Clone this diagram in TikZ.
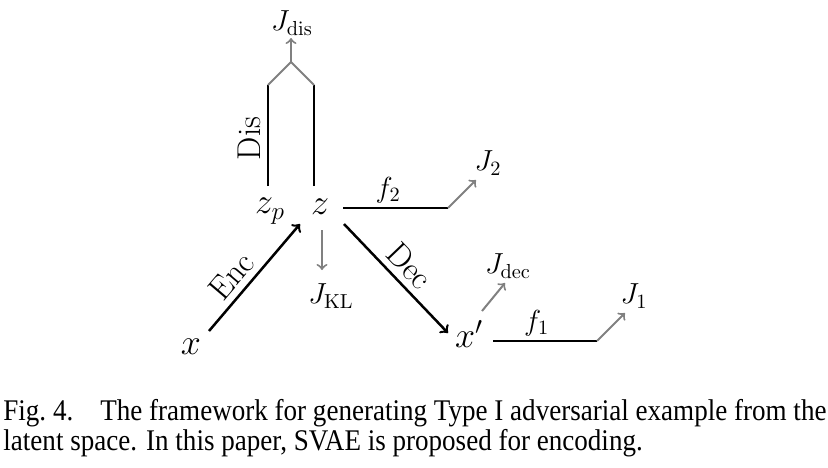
\RequirePackage{fix-cm}
\documentclass[tikz,border=0pt]{standalone}
\usepackage[no-math]{fontspec}
\usepackage{graphicx}
\newfontfamily\capfont{Liberation Serif}
\usetikzlibrary{calc}

\begin{document}
\begin{tikzpicture}[x=0.5pt,y=-0.5pt,
  bigl/.style={font=\fontsize{18}{20}\selectfont},
  costl/.style={font=\fontsize{14.5}{16}\selectfont},
  netl/.style={font=\fontsize{16.5}{18}\selectfont,inner sep=3pt},
  flow/.style={black,line width=1.25pt},
  cost/.style={gray,line width=1pt}]

\useasboundingbox (0,0) rectangle (828,467);

% variables
\node[bigl] (x) at (191,347) {$x$};
\node[bigl] (zp) at (270,211) {$z_p$};
\node[bigl] (z) at (320,207) {$z$};
\node[bigl] (xp) at (469,334) {$x'$};

% costs
\node[costl] (Jdis) at (292,23) {$J_{\mathrm{dis}}$};
\node[costl] (J2) at (488,163) {$J_2$};
\node[costl] (JKL) at (331,296) {$J_{\mathrm{KL}}$};
\node[costl] (Jdec) at (508,266) {$J_{\mathrm{dec}}$};
\node[costl] (J1) at (634,296) {$J_1$};

\coordinate (encA) at (209,331);
\coordinate (encB) at (300,224);
\coordinate (decA) at (344,224);
\coordinate (decB) at (448,333);
\coordinate (disL) at (268,186);
\coordinate (disLt) at (268,85);
\coordinate (disR) at (314,186);
\coordinate (disRt) at (314,85);
\coordinate (fork) at (291,62);
\coordinate (Jdistip) at (291,38);
\coordinate (f2A) at (343,208);
\coordinate (f2B) at (448,208);
\coordinate (J2tip) at (476,180);
\coordinate (f1A) at (493,341);
\coordinate (f1B) at (597,341);
\coordinate (J1tip) at (625,313);
\coordinate (decC) at (482,311);
\coordinate (Jdectip) at (505,283);
\coordinate (klA) at (322,230);
\coordinate (klB) at (322,270);

\draw[flow,->] (encA)--(encB) node [netl,pos=0.4,sloped,above] {Enc};
\draw[flow,->] (decA)--(decB) node [netl,midway,sloped,above] {Dec};
\draw[flow] (disL)--(disLt) node [netl,pos=0.47,sloped,above] {Dis};
\draw[flow] (disR)--(disRt);
\draw[flow] (f2A)--(f2B) node [costl,pos=0.43,above,inner sep=2pt] {$f_2$};
\draw[flow] (f1A)--(f1B) node [costl,pos=0.42,above,inner sep=2pt] {$f_1$};

\draw[cost] (disLt)--(fork)--(disRt);
\draw[cost,->] (fork)--(Jdistip);
\draw[cost,->] (f2B)--(J2tip);
\draw[cost,->] (f1B)--(J1tip);
\draw[cost,->] (decC)--(Jdectip);
\draw[cost,->] (klA)--(klB);

% caption
\node[anchor=north west,inner sep=0] (cap) at (3,399) {\resizebox{411.5pt}{\height}{\capfont\fontsize{15}{14}\selectfont
\begin{tabular}{@{}l@{}}Fig.~4.\quad The framework for generating Type I adversarial example from the\\
latent space. In this paper, SVAE is proposed for encoding.\end{tabular}}};

\end{tikzpicture}
\end{document}
